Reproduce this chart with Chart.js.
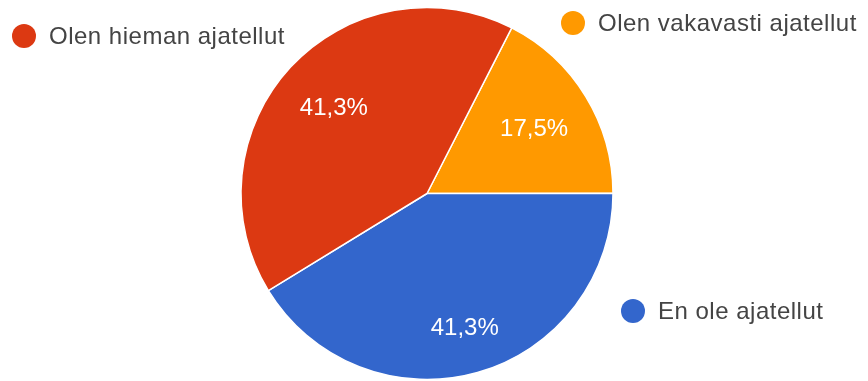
<!DOCTYPE html>
<html>
<head>
<meta charset="utf-8">
<script src="https://cdn.jsdelivr.net/npm/chart.js@4/dist/chart.umd.min.js"></script>
<style>
  html, body { margin:0; padding:0; background:#fff; }
  #wrap { width:868px; height:381px; position:relative; }
</style>
</head>
<body>
<div id="wrap"><canvas id="pie"></canvas></div>
<script>
// ── DATA ─────────────────────────────────────────────
const labels = ['Olen vakavasti ajatellut', 'En ole ajatellut', 'Olen hieman ajatellut'];
const counts = [11, 26, 26];
const colors = ['#ff9900', '#3366cc', '#dc3912'];

// where each side label sits (dot centre), same order as labels
const legendSpots = [
  { x:573, y:23 },
  { x:633, y:311 },
  { x:24,  y:36 }
];
// how far out the % text sits, as a share of the radius
const labelDepth = [0.675, 0.748, 0.683];

const total = counts.reduce((s,v) => s + v, 0);
const pct = v => (v / total * 100).toFixed(1).replace('.', ',') + '%';

// percent text inside each slice
const sliceLabels = {
  id:'sliceLabels',
  afterDatasetsDraw(chart) {
    const ctx = chart.ctx;
    const meta = chart.getDatasetMeta(0);
    ctx.save();
    ctx.fillStyle = '#fff';
    ctx.font = '24px "Liberation Sans", Arial, sans-serif';
    ctx.textAlign = 'center';
    ctx.textBaseline = 'middle';
    meta.data.forEach((arc, i) => {
      const mid = (arc.startAngle + arc.endAngle) / 2;
      const r = arc.outerRadius * labelDepth[i];
      ctx.fillText(pct(counts[i]), arc.x + Math.cos(mid) * r, arc.y + Math.sin(mid) * r + 1);
    });
    ctx.restore();
  }
};

// legend entries placed around the pie
const sideLegend = {
  id:'sideLegend',
  afterDraw(chart) {
    const ctx = chart.ctx;
    ctx.save();
    ctx.font = '24px "Liberation Sans", Arial, sans-serif';
    if ('letterSpacing' in ctx) ctx.letterSpacing = '0.5px';
    ctx.textBaseline = 'middle';
    ctx.textAlign = 'left';
    labels.forEach((l, i) => {
      const p = legendSpots[i];
      ctx.fillStyle = colors[i];
      ctx.beginPath();
      ctx.arc(p.x, p.y, 12, 0, Math.PI * 2);
      ctx.fill();
      ctx.fillStyle = '#444';
      ctx.fillText(l, p.x + 25, p.y + 1);
    });
    ctx.restore();
  }
};

new Chart(document.getElementById('pie'), {
  type:'pie',
  data:{ labels, datasets:[{ data:counts, backgroundColor:colors, borderColor:'#fff', borderWidth:1.5 }] },
  options:{
    responsive:true, maintainAspectRatio:false, animation:false,
    rotation:27.1, radius:186,
    layout:{ padding:{ top:7, bottom:1, left:0, right:14 } },
    plugins:{ legend:{ display:false }, tooltip:{ enabled:false } }
  },
  plugins:[sliceLabels, sideLegend]
});
</script>
</body>
</html>
